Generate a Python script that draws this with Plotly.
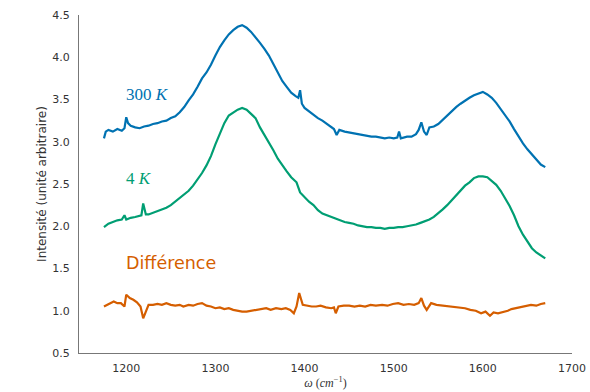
import plotly.graph_objects as go

# ---- data ----
x_300K = [1175,1177,1180,1185,1190,1195,1198,1200,1202,1205,
          1210,1215,1220,1225,1230,1235,1240,1245,1250,1255,
          1260,1265,1270,1275,1280,1285,1290,1295,1300,1305,
          1310,1315,1320,1325,1330,1335,1340,1345,1350,1355,
          1360,1365,1370,1375,1380,1385,1390,1393,1395,1397,
          1400,1405,1410,1415,1420,1425,1430,1433,1436,1439,
          1445,1450,1455,1460,1465,1470,1475,1480,1485,1490,
          1495,1500,1504,1506,1508,1512,1515,1520,1525,1528,
          1531,1534,1537,1540,1545,1550,1555,1560,1565,1570,
          1575,1580,1585,1590,1595,1600,1605,1610,1615,1620,
          1625,1630,1635,1640,1645,1650,1655,1660,1665,1670]
y_300K = [3.04,3.12,3.14,3.12,3.15,3.13,3.16,3.29,3.22,3.19,
          3.17,3.16,3.18,3.19,3.21,3.22,3.24,3.25,3.28,3.30,
          3.35,3.41,3.49,3.56,3.65,3.75,3.82,3.91,4.02,4.12,
          4.20,4.27,4.32,4.36,4.38,4.35,4.30,4.24,4.17,4.10,
          4.02,3.92,3.81,3.72,3.65,3.58,3.54,3.52,3.61,3.45,
          3.40,3.36,3.31,3.28,3.25,3.21,3.18,3.15,3.08,3.14,
          3.12,3.11,3.10,3.09,3.08,3.07,3.06,3.06,3.05,3.04,
          3.05,3.04,3.05,3.12,3.04,3.05,3.06,3.06,3.09,3.14,
          3.23,3.12,3.08,3.17,3.18,3.21,3.26,3.31,3.37,3.41,
          3.45,3.49,3.52,3.55,3.57,3.59,3.56,3.52,3.46,3.39,
          3.32,3.24,3.15,3.06,2.98,2.91,2.85,2.78,2.73,2.70]

x_4K = [1175,1180,1185,1190,1195,1198,1200,1205,1210,1215,
        1217,1219,1222,1225,1230,1235,1240,1245,1250,1255,
        1260,1265,1270,1275,1280,1285,1290,1295,1300,1305,
        1310,1315,1320,1325,1330,1335,1340,1345,1350,1355,
        1358,1360,1365,1370,1375,1380,1385,1388,1391,1395,
        1400,1405,1410,1415,1420,1425,1430,1435,1440,1445,
        1450,1455,1460,1465,1470,1475,1480,1485,1490,1495,
        1500,1505,1510,1515,1520,1525,1530,1535,1540,1545,
        1550,1555,1560,1565,1570,1575,1580,1585,1590,1595,
        1600,1605,1610,1615,1620,1625,1630,1635,1640,1645,
        1650,1655,1660,1665,1670]
y_4K = [1.99,2.03,2.05,2.07,2.08,2.13,2.08,2.10,2.11,2.12,
        2.13,2.27,2.14,2.14,2.16,2.18,2.20,2.22,2.25,2.29,
        2.33,2.37,2.42,2.48,2.55,2.63,2.72,2.83,2.97,3.10,
        3.22,3.31,3.35,3.38,3.40,3.38,3.33,3.28,3.17,3.08,
        3.03,3.00,2.90,2.80,2.72,2.65,2.58,2.55,2.52,2.40,
        2.34,2.29,2.25,2.19,2.15,2.13,2.11,2.09,2.07,2.05,
        2.04,2.03,2.01,2.00,1.99,1.99,1.98,1.98,1.97,1.98,
        1.98,1.99,1.99,2.00,2.01,2.02,2.04,2.06,2.08,2.11,
        2.15,2.20,2.25,2.31,2.37,2.43,2.48,2.52,2.57,2.59,
        2.59,2.58,2.54,2.49,2.42,2.33,2.24,2.13,2.00,1.90,
        1.82,1.74,1.69,1.65,1.62]

x_diff = [1175,1180,1186,1190,1194,1198,1200,1204,1208,1212,
          1216,1219,1222,1225,1230,1235,1240,1245,1250,1255,
          1260,1264,1270,1275,1280,1285,1290,1295,1300,1305,
          1310,1315,1320,1325,1330,1335,1340,1345,1350,1357,
          1362,1368,1374,1379,1384,1388,1391,1394,1398,1403,
          1408,1413,1418,1424,1430,1433,1435,1438,1444,1450,
          1456,1462,1468,1474,1480,1487,1493,1499,1505,1511,
          1517,1523,1528,1531,1534,1537,1542,1548,1555,1561,
          1567,1573,1580,1586,1592,1598,1603,1608,1612,1617,
          1622,1628,1632,1636,1642,1648,1654,1660,1665,1670]
y_diff = [1.05,1.08,1.11,1.09,1.09,1.05,1.19,1.15,1.13,1.10,
          1.05,0.91,1.00,1.07,1.07,1.08,1.07,1.09,1.07,1.06,
          1.07,1.05,1.07,1.06,1.08,1.09,1.06,1.05,1.03,1.04,
          1.02,1.03,1.01,1.00,0.99,0.99,1.00,1.01,1.02,1.03,
          1.01,1.03,1.02,1.03,1.01,0.97,1.05,1.21,1.07,1.06,
          1.05,1.05,1.06,1.04,1.03,1.04,0.97,1.05,1.06,1.06,
          1.05,1.06,1.05,1.07,1.06,1.07,1.06,1.08,1.09,1.07,
          1.08,1.07,1.09,1.15,1.06,1.01,1.09,1.07,1.06,1.05,
          1.04,1.04,1.03,1.01,1.00,0.97,0.99,0.94,0.98,0.97,
          0.98,1.00,1.02,1.03,1.04,1.06,1.07,1.06,1.08,1.09]

x_ticks = [1200, 1300, 1400, 1500, 1600, 1700]
y_ticks = [0.5, 1.0, 1.5, 2.0, 2.5, 3.0, 3.5, 4.0, 4.5]

labels = ["300 <i>K</i>", "4 <i>K</i>", "Différence"]
label_y = [3.56, 2.57, 1.565]
colors = ["#0072B2", "#009E73", "#D55E00"]

fig = go.Figure()
for xs, ys, c in [(x_300K, y_300K, colors[0]), (x_4K, y_4K, colors[1]), (x_diff, y_diff, colors[2])]:
    fig.add_trace(go.Scatter(x=xs, y=ys, mode="lines", line=dict(color=c, width=2.2), showlegend=False))

fonts = ["Liberation Serif", "Liberation Serif", "DejaVu Sans"]
sizes = [17, 17, 17.5]
for t, yv, c, f, s in zip(labels, label_y, colors, fonts, sizes):
    fig.add_annotation(x=1198, y=yv, text=t, showarrow=False, xanchor="left", yanchor="middle",
                       font=dict(family=f, size=s, color=c))

axis_common = dict(showgrid=False, zeroline=False, showline=True, linecolor="#777", linewidth=1,
                   ticks="", automargin=False,
                   tickfont=dict(family="DejaVu Sans", size=11, color="#333"))

fig.update_layout(
    width=590, height=392,
    margin=dict(l=79, r=18, t=15, b=39),
    paper_bgcolor="white", plot_bgcolor="white",
    xaxis=dict(range=[1147, 1700], tickvals=x_ticks, ticklabelstandoff=5,
               title=dict(text="<i>ω</i> (<i>cm</i><sup>−1</sup>)", standoff=4,
                          font=dict(family="Liberation Serif", size=12, color="#333")),
               **axis_common),
    yaxis=dict(range=[0.5, 4.5], tickvals=y_ticks, tickformat=".1f", ticklabelstandoff=6,
               title=dict(text="Intensité (unité arbitraire)", standoff=3,
                          font=dict(family="DejaVu Sans", size=12, color="#333")),
               **axis_common),
)

fig.write_html("out.html")
